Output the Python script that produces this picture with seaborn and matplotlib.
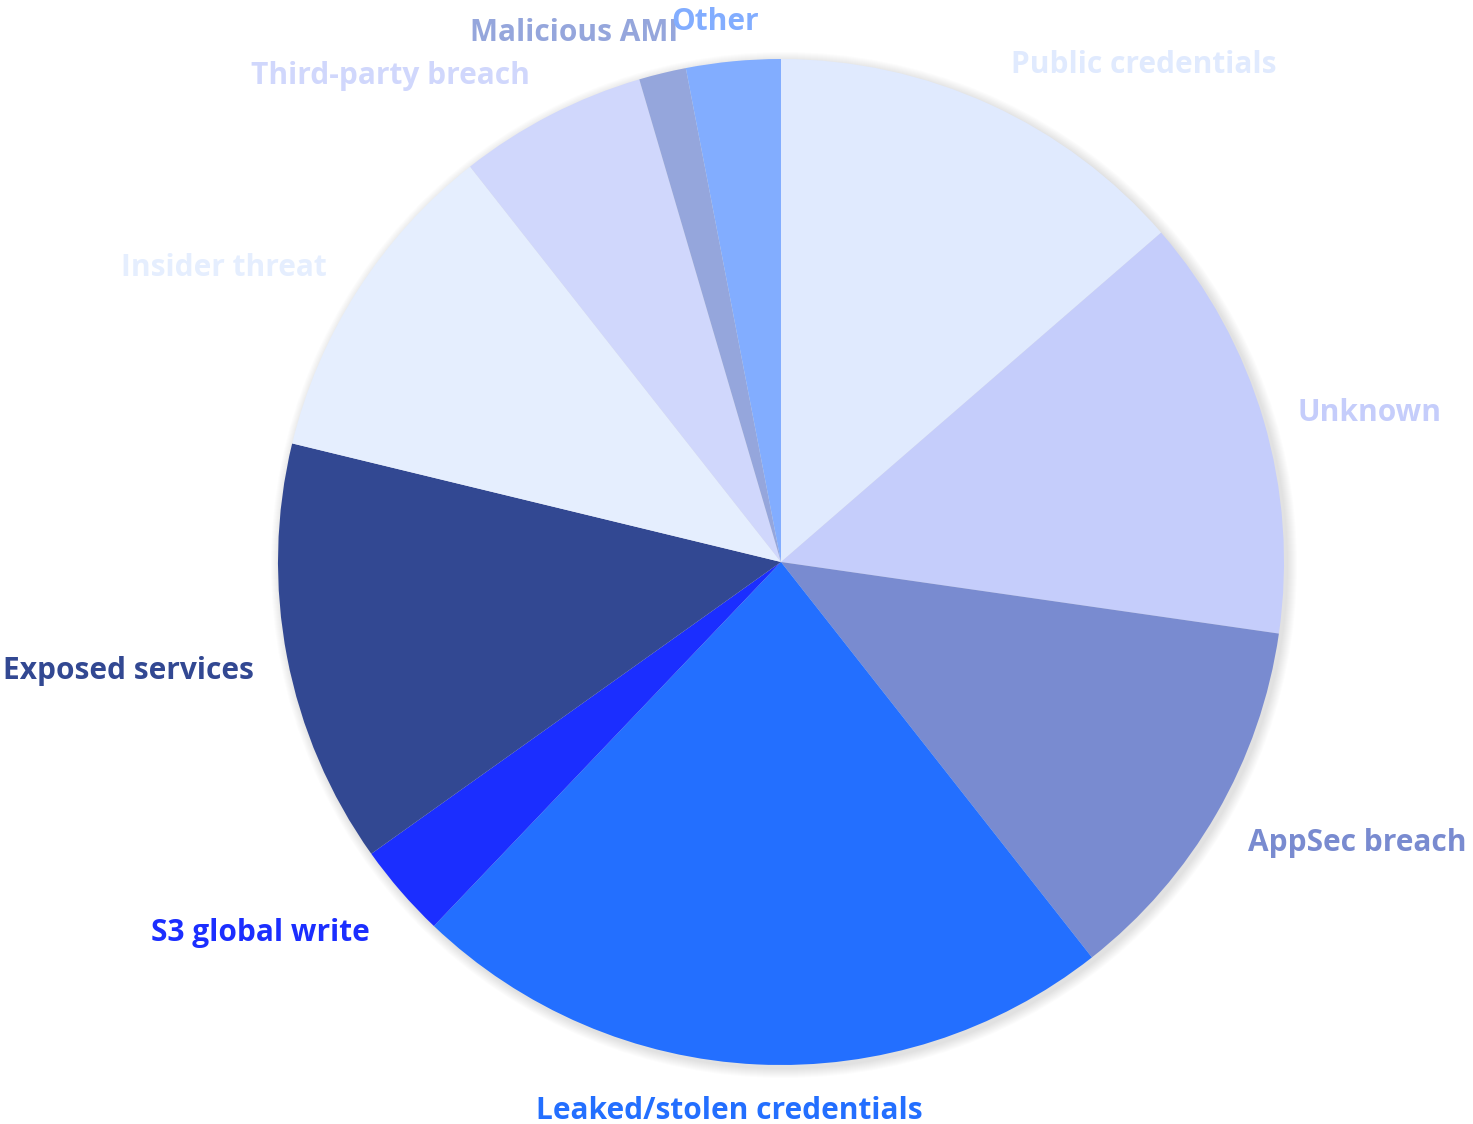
import matplotlib
matplotlib.use("Agg")
import matplotlib.pyplot as plt
import seaborn as sns
from matplotlib.patches import Circle

categories = ["Public credentials", "Unknown", "AppSec breach", "Leaked/stolen credentials",
              "S3 global write", "Exposed services", "Insider threat", "Third-party breach",
              "Malicious AMI", "Other"]
counts = [9, 9, 8, 15, 2, 9, 7, 4, 1, 2]
colors = ["#E0EAFE", "#C5CDFB", "#798BD0", "#236FFF", "#1B2EFF", "#324892",
          "#E5EEFE", "#D0D7FC", "#95A6DC", "#82ADFF"]

sns.set_theme(style="white")
plt.rcParams['font.family'] = ['Open Sans', 'DejaVu Sans']
palette = sns.color_palette(colors)

W, H = 1473, 1124
fig = plt.figure(figsize=(W / 100, H / 100), dpi=100)
ax = fig.add_axes([0, 0, 1, 1])

cx, cy, R = 781, 562, 503
# soft shadow
for k in range(10):
    ax.add_patch(Circle((cx + 3, cy - 3), R + 10 - k, color="black", alpha=0.012, lw=0, zorder=0))

wedges, texts = ax.pie(counts, labels=categories, colors=palette, startangle=90,
                       counterclock=False, center=(cx, cy), radius=R, labeldistance=1.1,
                       frame=True, wedgeprops=dict(linewidth=0),
                       textprops=dict(fontsize=21.5, fontweight="bold"))
ax.set_xlim(0, W)
ax.set_ylim(0, H)
ax.set_aspect("equal")
ax.axis("off")

# label nudges (pixels) to mimic the reference's label placement
nudge = {"Public credentials": (0, -6), "Other": (-13, -11), "Malicious AMI": (28, -9),
         "Leaked/stolen credentials": (-25, 4), "Unknown": (-14, -7), "AppSec breach": (-12, -4),
         "S3 global write": (7, -9), "Exposed services": (16, -4), "Insider threat": (11, -5),
         "Third-party breach": (2, -6)}
for t, c in zip(texts, palette):
    t.set_color(c)
    x, y = t.get_position()
    name = t.get_text()
    if name in ("Leaked/stolen credentials", "Other"):
        t.set_ha("center")
    elif x < cx:
        t.set_ha("right")
    else:
        t.set_ha("left")
    dx, dy = nudge.get(name, (0, 0))
    t.set_position((x + dx, y + dy))

fig.savefig("out.png", dpi=100)
